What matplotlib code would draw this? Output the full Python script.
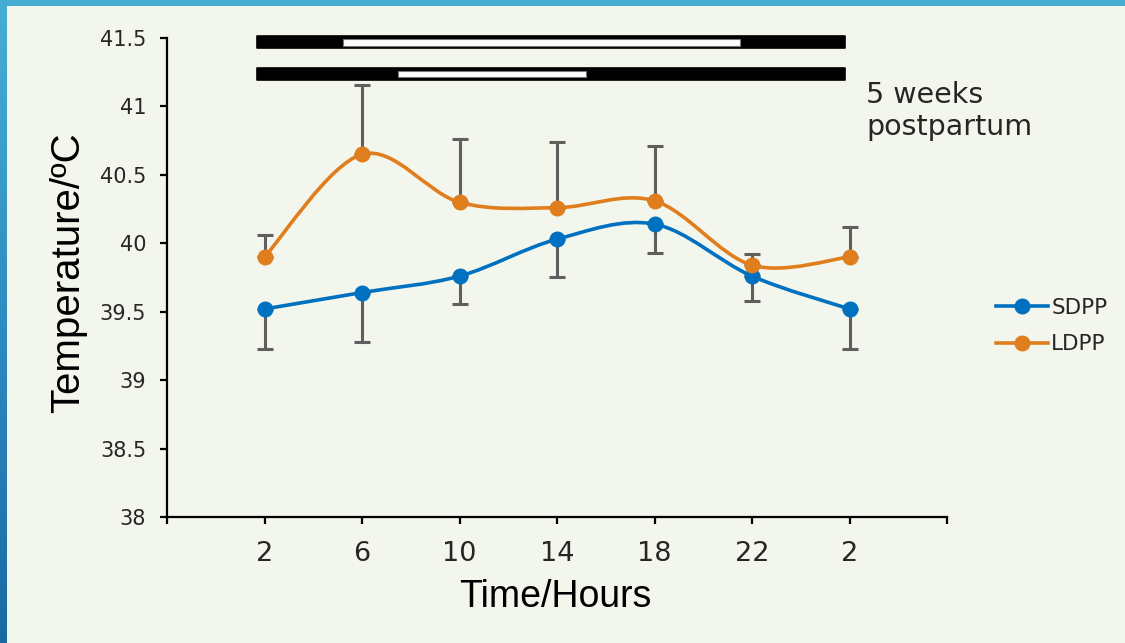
import matplotlib
matplotlib.use("Agg")
import numpy as np
import matplotlib.pyplot as plt
from matplotlib.path import Path
from matplotlib.patches import PathPatch, Rectangle
from matplotlib.lines import Line2D
from matplotlib.colors import LinearSegmentedColormap

# ---- data ----
hour_labels = ["2", "6", "10", "14", "18", "22", "2"]
sdpp_mean = [39.52, 39.64, 39.76, 40.03, 40.14, 39.76, 39.52]
sdpp_err = [0.29, 0.36, 0.20, 0.28, 0.21, 0.18, 0.29]      # drawn downward
ldpp_mean = [39.90, 40.65, 40.30, 40.26, 40.31, 39.84, 39.90]
ldpp_err = [0.16, 0.51, 0.46, 0.48, 0.40, 0.08, 0.22]      # drawn upward
# light/dark bars (in category-index units)
bar_span = [-0.08, 5.95]
bar1_light = [0.80, 4.88]
bar2_light = [1.37, 3.30]

BG = "#F3F6EC"
BLUE = "#0070C0"
ORANGE = "#E07E1E"
GREY = "#5F5F5F"
TXT = "#262626"

fig = plt.figure(figsize=(11.25, 6.43), dpi=100)

# slide background: blue gradient frame + light panel
bg_ax = fig.add_axes([0, 0, 1, 1], zorder=-10)
bg_ax.set_axis_off()
cmap = LinearSegmentedColormap.from_list("frame", ["#46AED4", "#2E8CC0", "#1A6AA2"])
bg_ax.imshow(np.linspace(0, 1, 256).reshape(-1, 1), aspect="auto", cmap=cmap,
             extent=[0, 1, 0, 1])
bg_ax.add_patch(Rectangle((7 / 1125, 0), 1, 1 - 6 / 643, transform=bg_ax.transAxes,
                          facecolor=BG, edgecolor="none"))
bg_ax.set_xlim(0, 1)
bg_ax.set_ylim(0, 1)

ax = fig.add_axes([167 / 1125, 1 - 517 / 643, (947 - 167) / 1125, (517 - 38) / 643])
ax.set_facecolor("none")
x = list(range(len(hour_labels)))


def smooth_path(xs, ys):
    pts = list(zip(xs, ys))
    n = len(pts)
    verts = [pts[0]]
    codes = [Path.MOVETO]
    for i in range(n - 1):
        p0 = pts[i - 1] if i > 0 else pts[i]
        p1 = pts[i]
        p2 = pts[i + 1]
        p3 = pts[i + 2] if i + 2 < n else pts[i + 1]
        c1 = (p1[0] + (p2[0] - p0[0]) / 6, p1[1] + (p2[1] - p0[1]) / 6)
        c2 = (p2[0] - (p3[0] - p1[0]) / 6, p2[1] - (p3[1] - p1[1]) / 6)
        verts += [c1, c2, p2]
        codes += [Path.CURVE4] * 3
    return Path(verts, codes)


for mean, err, col, up in [(sdpp_mean, sdpp_err, BLUE, False),
                           (ldpp_mean, ldpp_err, ORANGE, True)]:
    zeros = [0] * len(err)
    yerr = [zeros, err] if up else [err, zeros]
    ax.errorbar(x, mean, yerr=yerr, fmt="none", ecolor=GREY, elinewidth=2.2,
                capsize=6, capthick=2.2, zorder=2)
    ax.add_patch(PathPatch(smooth_path(x, mean), facecolor="none", edgecolor=col,
                           lw=2.6, zorder=3, capstyle="round"))
    ax.plot(x, mean, "o", color=col, ms=10.5, zorder=4, clip_on=False)

# top bars
bar_h = 0.088
for yc, light in [(41.468, bar1_light), (41.236, bar2_light)]:
    ax.add_patch(Rectangle((bar_span[0], yc - bar_h / 2), bar_span[1] - bar_span[0], bar_h,
                           facecolor="black", edgecolor="black", lw=1.2,
                           joinstyle="round", clip_on=False, zorder=5))
    ax.add_patch(Rectangle((light[0], yc - bar_h * 0.27), light[1] - light[0], bar_h * 0.54,
                           facecolor="white", edgecolor="#777777", lw=0.8,
                           clip_on=False, zorder=6))

ax.set_xlim(-1, 7)
ax.set_ylim(38, 41.5)
ax.set_xticks(list(range(-1, 8)))
ax.set_xticklabels([""] + hour_labels + [""])
ax.set_yticks([38, 38.5, 39, 39.5, 40, 40.5, 41, 41.5])
ax.set_yticklabels(["38", "38.5", "39", "39.5", "40", "40.5", "41", "41.5"])

for s in ["top", "right"]:
    ax.spines[s].set_visible(False)
for s in ["left", "bottom"]:
    ax.spines[s].set_linewidth(1.6)
    ax.spines[s].set_color("black")
ax.tick_params(axis="both", direction="out", length=5, width=1.6, color="black")
ax.tick_params(axis="y", labelsize=15, pad=10, labelcolor=TXT)
ax.tick_params(axis="x", labelsize=19.5, pad=12, labelcolor=TXT)
for lab in ax.get_xticklabels() + ax.get_yticklabels():
    lab.set_fontfamily("DejaVu Sans")

fig.text(68 / 1125, 1 - 273 / 643, "Temperature/ºC", rotation=90, ha="center", va="center",
         fontsize=29, family="Liberation Sans", color="black")
fig.text(555 / 1125, 1 - 597 / 643, "Time/Hours", ha="center", va="center",
         fontsize=27, family="Liberation Sans", color="black")
fig.text(866 / 1125, 1 - 111 / 643, "5 weeks\npostpartum", ha="left", va="center",
         fontsize=20.5, family="DejaVu Sans", color=TXT, linespacing=1.2)

handles = [Line2D([], [], color=BLUE, lw=2.6, marker="o", ms=10.5),
           Line2D([], [], color=ORANGE, lw=2.6, marker="o", ms=10.5)]
leg = fig.legend(handles, ["SDPP", "LDPP"], loc="center left",
                 bbox_to_anchor=(977 / 1125, 1 - 326 / 643), frameon=False,
                 handlelength=2.4, handletextpad=0.15, labelspacing=0.75,
                 prop={"family": "DejaVu Sans", "size": 15.5})
for t in leg.get_texts():
    t.set_color(TXT)

fig.savefig("out.png", dpi=100)
